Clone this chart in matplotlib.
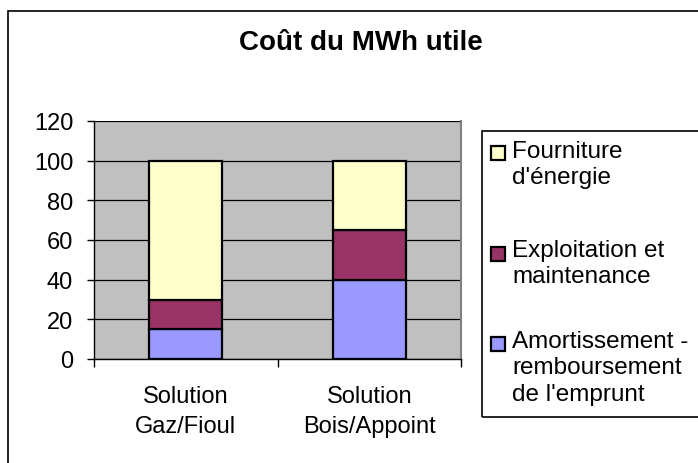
import matplotlib.pyplot as plt
import numpy as np
from matplotlib.patches import Rectangle

plt.rcParams['font.family'] = ['Liberation Sans', 'DejaVu Sans']

# data
solutions = ["Solution\nGaz/Fioul", "Solution\nBois/Appoint"]
amortissement = [15, 40]
exploitation = [15, 25]
fourniture = [70, 35]

series_labels = ["Amortissement -\nremboursement\nde l'emprunt",
                 "Exploitation et\nmaintenance",
                 "Fourniture\nd'énergie"]
series_colors = ["#9999FF", "#993366", "#FFFFCC"]
yticks = [0, 20, 40, 60, 80, 100, 120]

W, H = 698, 464
fig = plt.figure(figsize=(W / 100, H / 100), dpi=100)

# outer frame
fig.patches.append(Rectangle((8 / W, -0.1), 1.2, 1 - 12 / H + 0.1, transform=fig.transFigure,
                             fill=False, edgecolor='black', linewidth=1.2))

ax = fig.add_axes([94 / W, 1 - 360 / H, 367 / W, 238 / H])
ax.set_facecolor('#C0C0C0')

x = np.arange(len(solutions))
bottom = np.zeros(len(solutions))
for vals, col in zip([amortissement, exploitation, fourniture], series_colors):
    ax.bar(x, vals, width=0.4, bottom=bottom, color=col, edgecolor='black',
           linewidth=1.6, zorder=3)
    bottom += np.array(vals)

ax.set_xlim(-0.5, len(solutions) - 0.5)
ax.set_ylim(0, 120)
ax.set_yticks(yticks)
ax.yaxis.grid(True, color='black', linewidth=0.9, zorder=1)
ax.set_axisbelow(True)

ax.set_xticks(x)
ax.set_xticklabels(solutions, fontsize=17, linespacing=1.42)
ax.set_xticks([-0.5, 0.5, 1.5], minor=True)
ax.tick_params(axis='x', which='major', length=0, pad=19)
ax.tick_params(axis='x', which='minor', length=6, width=1, direction='out')
ax.tick_params(axis='y', labelsize=17, length=5, width=1, pad=10)

ax.spines['top'].set_visible(False)
ax.spines['right'].set_color('#808080')
ax.spines['right'].set_linewidth(1.5)
ax.spines['left'].set_linewidth(1)
ax.spines['bottom'].set_linewidth(1)

fig.text(361 / W, 1 - 50 / H, "Coût du MWh utile", ha='center', va='baseline',
         fontsize=20, fontweight='bold')

# legend drawn by hand so squares line up with first line of text
fig.patches.append(Rectangle((482 / W, 1 - 418 / H), 230 / W, 286 / H,
                             transform=fig.transFigure, fill=False,
                             edgecolor='black', linewidth=1.2))
square_tops = [338, 248, 147]
text_tops = [331, 240, 141]
for lab, col, sq, tt in zip(series_labels, series_colors, square_tops, text_tops):
    fig.patches.append(Rectangle((491 / W, 1 - (sq + 14) / H), 14 / W, 14 / H,
                                 transform=fig.transFigure, facecolor=col,
                                 edgecolor='black', linewidth=1.6))
    fig.text(512 / W, 1 - tt / H, lab, ha='left', va='top',
             fontsize=17.5, linespacing=1.25)

fig.savefig("out.png", dpi=100)
